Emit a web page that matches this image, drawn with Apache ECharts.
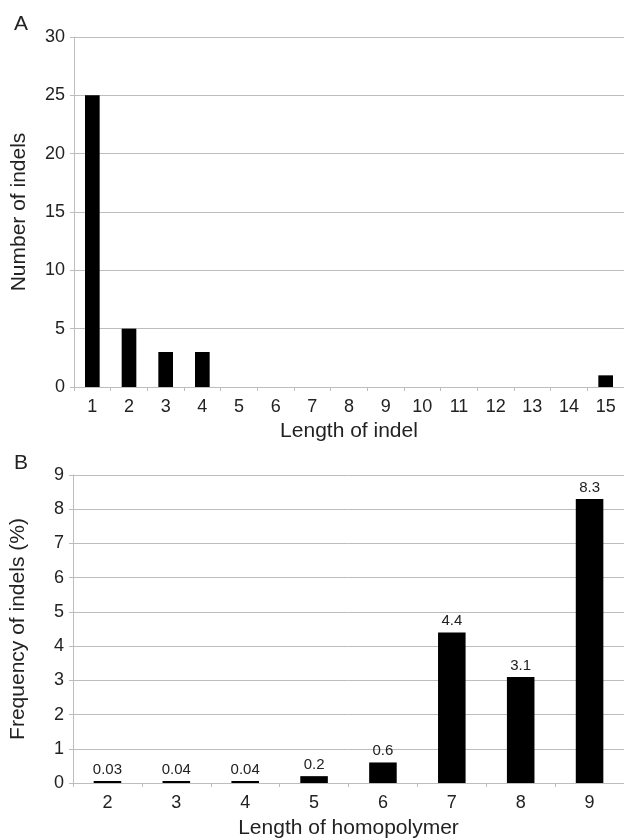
<!DOCTYPE html>
<html>
<head>
<meta charset="utf-8">
<script src="https://cdn.jsdelivr.net/npm/echarts@6/dist/echarts.min.js"></script>
<style>html,body{margin:0;padding:0;background:#fff}#c{width:624px;height:840px}</style>
</head>
<body>
<div id="c"></div>
<script>
const indelLengths = ['1','2','3','4','5','6','7','8','9','10','11','12','13','14','15'];
const indelCounts = [25,5,3,3,0,0,0,0,0,0,0,0,0,0,1];
const indelTicks = [0,5,10,15,20,25,30];
const homopolymerLengths = ['2','3','4','5','6','7','8','9'];
const indelFrequency = [0.03,0.04,0.04,0.2,0.6,4.4,3.1,8.3];
const freqTicks = [0,1,2,3,4,5,6,7,8,9];

const FONT = '"Liberation Sans", Arial, sans-serif';
const txt = '#222';
const grid = '#bdbdbd';

const chart = echarts.init(document.getElementById('c'), null, {renderer:'canvas'});
function yAx(idx, ticks, name, gap){
  return {
    type:'value', gridIndex: idx, min: ticks[0], max: ticks[ticks.length-1],
    interval: ticks[1]-ticks[0],
    name: name, nameLocation:'middle', nameGap: gap, nameRotate: 90,
    nameTextStyle:{fontFamily:FONT, fontSize:21, color:txt},
    axisLine:{show:true, lineStyle:{color:grid, width:1}},
    axisTick:{show:true, length:4, lineStyle:{color:grid}},
    splitLine:{show:true, lineStyle:{color:grid, width:1}},
    axisLabel:{fontFamily:FONT, fontSize:18, color:txt, margin:9}
  };
}
function xAx(idx, cats, name, gap){
  return {
    type:'category', gridIndex: idx, data: cats,
    name: name, nameLocation:'middle', nameGap: gap,
    nameTextStyle:{fontFamily:FONT, fontSize:21, color:txt},
    axisLine:{show:true, lineStyle:{color:grid, width:1}},
    axisTick:{show:true, length:4, lineStyle:{color:grid}},
    axisLabel:{fontFamily:FONT, fontSize:18, color:txt, margin:11}
  };
}
chart.setOption({
  animation:false,
  backgroundColor:'#fff',
  title:[
    {text:'A', left:9, top:9, textStyle:{fontFamily:FONT, fontSize:21, fontWeight:'normal', color:txt}},
    {text:'B', left:9, top:448, textStyle:{fontFamily:FONT, fontSize:21, fontWeight:'normal', color:txt}}
  ],
  grid:[
    {left:74, top:37, width:555, height:350},
    {left:73, top:475, width:552, height:309}
  ],
  xAxis:[ xAx(0, indelLengths, 'Length of indel', 34), xAx(1, homopolymerLengths, 'Length of homopolymer', 35) ],
  yAxis:[ yAx(0, indelTicks, 'Number of indels', 44), yAx(1, freqTicks, 'Frequency of indels (%)', 44) ],
  series:[
    {type:'bar', xAxisIndex:0, yAxisIndex:0, data: indelCounts, barWidth:'40%', itemStyle:{color:'#000'}},
    {type:'bar', xAxisIndex:1, yAxisIndex:1, data: indelFrequency, barWidth:'40%', barMinHeight:2,
     itemStyle:{color:'#000'},
     label:{show:true, position:'top', distance:4, fontFamily:FONT, fontSize:15, color:txt}}
  ]
});
</script>
</body>
</html>
